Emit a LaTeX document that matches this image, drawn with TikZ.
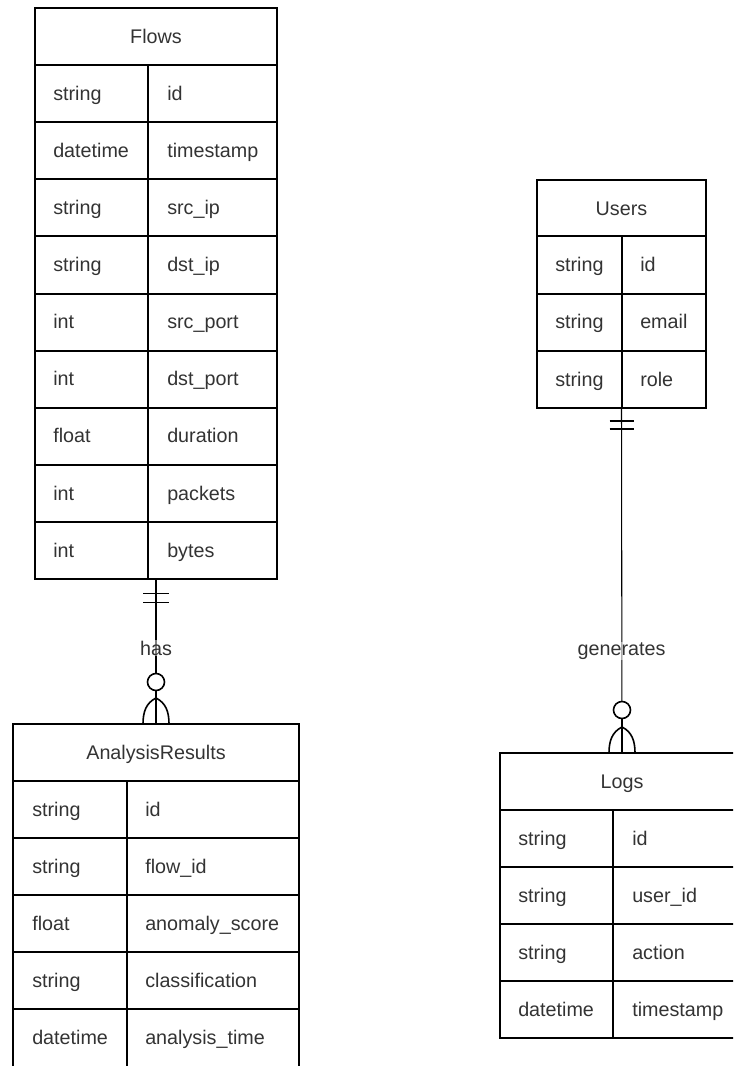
\documentclass[tikz,border=0pt]{standalone}
\usepackage{fontspec}
\setmainfont{Liberation Sans}
\usetikzlibrary{calc}
\definecolor{ink}{HTML}{333333}
\def\px{0.75pt}
\tikzset{
  frame/.style={rectangle, draw=black, line width=1.5pt, inner sep=0pt, outer sep=0pt, anchor=north west},
  grid/.style={draw=black, line width=1.5pt},
  field/.style={anchor=base west, inner sep=0pt, text=ink, font=\fontsize{14.8}{17}\selectfont},
  heading/.style={anchor=base, inner sep=0pt, text=ink, font=\fontsize{14.8}{17}\selectfont},
  link/.style={draw=black, line width=0.8pt},
  mk/.style={draw=black, line width=1.2pt},
  zero/.style={circle, draw=black, fill=white, line width=1.2pt, minimum size=17*\px, inner sep=0pt},
  rel/.style={fill=white, fill opacity=0.5, text opacity=1, text=ink, inner sep=0.5pt, font=\fontsize{14.8}{17}\selectfont},
}
\begin{document}
\begin{tikzpicture}[x=\px, y=-\px]
\useasboundingbox (0,0) rectangle (733,1066);
\clip (0,0) rectangle (733,1066);

% ---------- Flows ----------
\def\pitch{57.15}
\node[frame, minimum width=242*\px, minimum height=571.35*\px] (flows) at (35,8) {};
\node[heading] (flows-t) at (156,43.3) {Flows};
\draw[grid] (35,65) -- (277,65);
\draw[grid] (148,65) -- (148,579.35);
\foreach \t/\n [count=\i from 0] in {string/id, datetime/timestamp, string/src\_ip,
    string/dst\_ip, int/src\_port, int/dst\_port, float/duration, int/packets, int/bytes} {
  \ifnum\i>0 \draw[grid] (35,{65+\i*\pitch}) -- (277,{65+\i*\pitch}); \fi
  \node[field] (flows-ty\i) at (53,{65+\i*\pitch+\pitch/2+6.5}) {\t};
  \node[field] (flows-nm\i) at (167,{65+\i*\pitch+\pitch/2+6.5}) {\n};
}

% ---------- Users ----------
\def\pitch{57.2}
\node[frame, minimum width=169*\px, minimum height=228.1*\px] (users) at (537,180) {};
\node[heading] (users-t) at (621.5,215) {Users};
\draw[grid] (537,236.5) -- (706,236.5);
\draw[grid] (622,236.5) -- (622,408.1);
\foreach \t/\n [count=\i from 0] in {string/id, string/email, string/role} {
  \ifnum\i>0 \draw[grid] (537,{236.5+\i*\pitch}) -- (706,{236.5+\i*\pitch}); \fi
  \node[field] (users-ty\i) at (555,{236.5+\i*\pitch+\pitch/2+6.5}) {\t};
  \node[field] (users-nm\i) at (640,{236.5+\i*\pitch+\pitch/2+6.5}) {\n};
}

% ---------- AnalysisResults ----------
\def\pitch{57}
\node[frame, minimum width=286*\px, minimum height=350*\px] (ar) at (13,724) {};
\node[heading] (ar-t) at (156,759.3) {AnalysisResults};
\draw[grid] (13,781) -- (299,781);
\draw[grid] (127,781) -- (127,1074);
\foreach \t/\n [count=\i from 0] in {string/id, string/flow\_id, float/anomaly\_score,
    string/classification, datetime/analysis\_time} {
  \ifnum\i>0 \draw[grid] (13,{781+\i*\pitch}) -- (299,{781+\i*\pitch}); \fi
  \node[field] (ar-ty\i) at (32,{781+\i*\pitch+\pitch/2+6.5}) {\t};
  \node[field] (ar-nm\i) at (145,{781+\i*\pitch+\pitch/2+6.5}) {\n};
}

% ---------- Logs ----------
\node[frame, minimum width=244*\px, minimum height=285*\px] (logs) at (500,753) {};
\node[heading] (logs-t) at (622,788.3) {Logs};
\draw[grid] (500,810) -- (744,810);
\draw[grid] (613,810) -- (613,1038);
\foreach \t/\n [count=\i from 0] in {string/id, string/user\_id, string/action, datetime/timestamp} {
  \ifnum\i>0 \draw[grid] (500,{810+\i*\pitch}) -- (744,{810+\i*\pitch}); \fi
  \node[field] (logs-ty\i) at (518,{810+\i*\pitch+\pitch/2+6.5}) {\t};
  \node[field] (logs-nm\i) at (632,{810+\i*\pitch+\pitch/2+6.5}) {\n};
}

% ---------- Flows (one) -- has -- (zero or many) AnalysisResults ----------
\draw[link] (flows.south) -- (ar.north);
\draw[mk] ($(flows.south)+(-13,14)$) -- ($(flows.south)+(13,14)$);
\draw[mk] ($(flows.south)+(-13,23)$) -- ($(flows.south)+(13,23)$);
\node[rel] (has) at (156,648) {has};
\node[zero] (z1) at ($(ar.north)+(0,-42)$) {};
\draw[mk] (z1.south) -- (ar.north);
\draw[mk] ($(ar.north)+(0,-26)$) .. controls +(-10,5) and +(0,-12) .. ($(ar.north)+(-13,0)$);
\draw[mk] ($(ar.north)+(0,-26)$) .. controls +(10,5) and +(0,-12) .. ($(ar.north)+(13,0)$);

% ---------- Users (one) -- generates -- (zero or many) Logs ----------
\draw[link] (users.south) -- (logs.north);
\draw[mk] ($(users.south)+(-12,13)$) -- ($(users.south)+(12,13)$);
\draw[mk] ($(users.south)+(-12,21)$) -- ($(users.south)+(12,21)$);
\node[rel] (gen) at (621.5,651) {generates};
\node[zero] (z2) at ($(logs.north)+(0,-43)$) {};
\draw[mk] (z2.south) -- (logs.north);
\draw[mk] ($(logs.north)+(0,-26)$) .. controls +(-10,5) and +(0,-12) .. ($(logs.north)+(-13,0)$);
\draw[mk] ($(logs.north)+(0,-26)$) .. controls +(10,5) and +(0,-12) .. ($(logs.north)+(13,0)$);
\end{tikzpicture}
\end{document}
